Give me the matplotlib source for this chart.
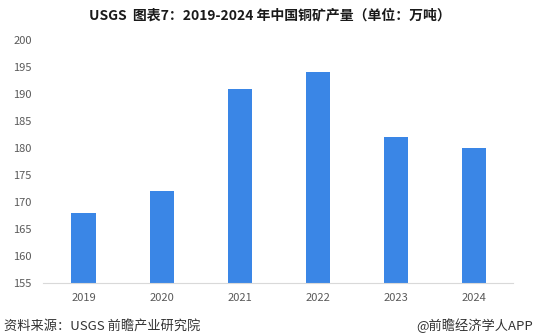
import matplotlib.pyplot as plt

plt.rcParams['font.family'] = ['Noto Sans CJK SC', 'DejaVu Sans']

# Data
years = ["2019", "2020", "2021", "2022", "2023", "2024"]
output = [168, 172, 191, 194, 182, 180]
y_ticks = [155, 160, 165, 170, 175, 180, 185, 190, 195, 200]

fig = plt.figure(figsize=(5.37, 3.36), dpi=100)
ax = fig.add_axes([0.080, 0.158, 0.875, 0.723])

ax.bar(range(len(years)), output, width=0.31, color='#3A86E6', bottom=0)
ax.set_xlim(-0.52, len(years) - 0.5)
ax.set_ylim(155, 200)
ax.set_yticks(y_ticks)
ax.set_xticks(range(len(years)))
ax.set_xticklabels(years)

for s in ['top', 'right', 'left']:
    ax.spines[s].set_visible(False)
ax.spines['bottom'].set_color('#D9D9D9')
ax.tick_params(axis='both', length=0, labelsize=8, colors='#595959')
ax.tick_params(axis='y', pad=8)
ax.tick_params(axis='x', pad=7)

fig.text(0.503, 0.955, "USGS  图表7：2019-2024 年中国铜矿产量（单位：万吨）",
         ha='center', va='center', fontsize=10, fontweight='bold', color='#1a1a1a')
fig.text(0.008, 0.03, "资料来源：USGS 前瞻产业研究院", ha='left', va='center',
         fontsize=9.5, color='#333333')
fig.text(0.993, 0.03, "@前瞻经济学人APP", ha='right', va='center',
         fontsize=9.5, color='#333333')

fig.savefig("out.png", dpi=100)
